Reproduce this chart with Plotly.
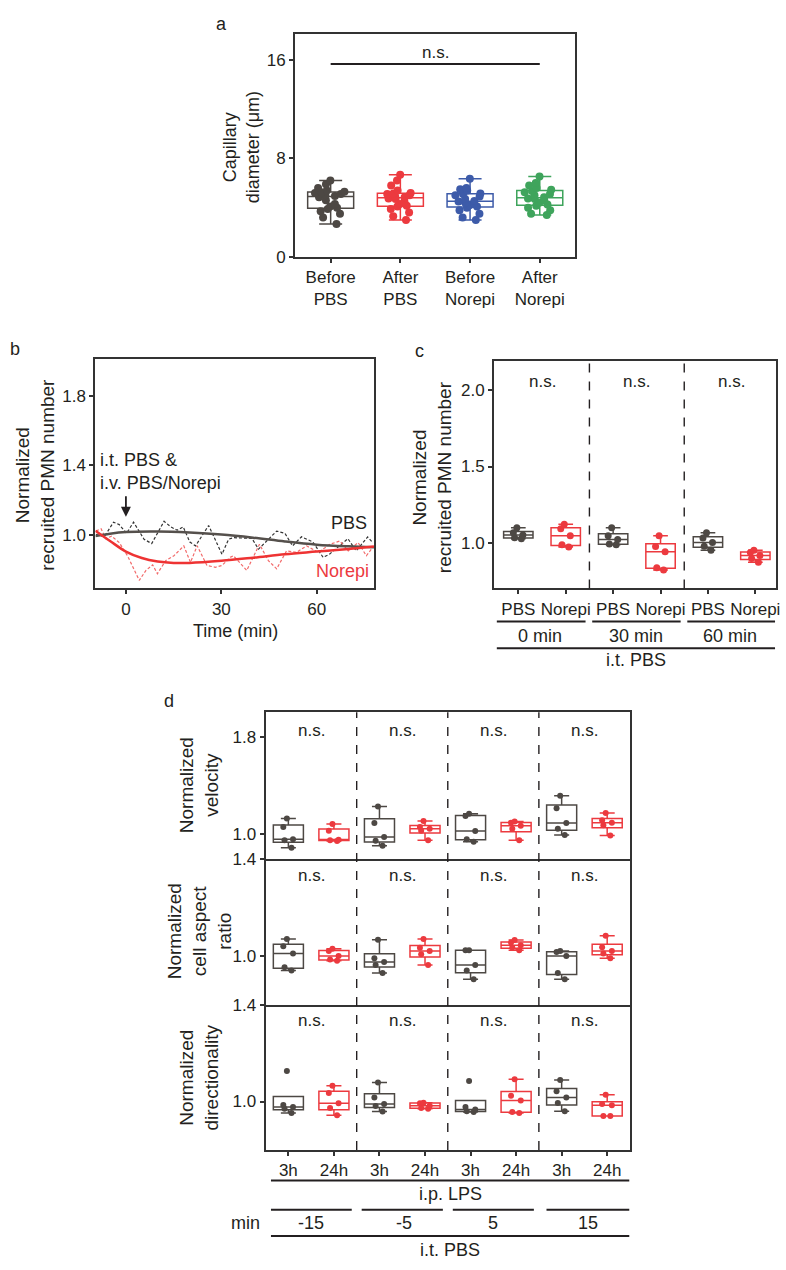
import plotly.graph_objects as go

W, H = 786, 1270
FONT = "Arial, Liberation Sans, sans-serif"
INK = "#231f20"
GRAY = "#4d4844"
RED = "#ec3a3f"
BLUE = "#3d5ba9"
GREEN = "#3fa45c"

# ---------------- Panel a data ----------------
a_categories = ["Before<br>PBS", "After<br>PBS", "Before<br>Norepi", "After<br>Norepi"]
a_before_pbs = [2.67, 3.2, 3.5, 3.7, 3.9, 4.0, 4.1, 4.3, 4.6, 4.85, 4.95, 5.0, 5.1, 5.2, 5.25, 5.3, 5.4, 5.6, 5.9, 6.2]
a_after_pbs = [3.0, 3.3, 3.6, 3.9, 4.1, 4.15, 4.3, 4.5, 4.7, 4.75, 4.85, 4.9, 5.0, 5.1, 5.15, 5.2, 5.4, 5.8, 6.2, 6.67]
a_before_norepi = [3.0, 3.2, 3.5, 3.8, 4.0, 4.1, 4.2, 4.3, 4.4, 4.5, 4.55, 4.7, 4.9, 5.0, 5.1, 5.15, 5.4, 5.5, 5.6, 6.35]
a_after_norepi = [3.4, 3.5, 3.8, 4.0, 4.15, 4.25, 4.4, 4.6, 4.7, 4.75, 4.85, 5.0, 5.1, 5.25, 5.35, 5.45, 5.6, 5.8, 6.0, 6.53]
a_colors = [GRAY, RED, BLUE, GREEN]
a_ns_level = 15.66

# ---------------- Panel b data ----------------
b_pbs_raw_t = [-9.4, -6.8, -3.9, -2.1, 0.2, 2.4, 5.7, 8.1, 12, 14.1, 16.1, 18, 20.1, 21.9, 26, 30.2, 32.3,
               33.8, 39.6, 41.7, 47.4, 50, 52.4, 55.2, 58.8, 62, 64, 69.8, 72.4, 76, 77.6]
b_pbs_raw = [1.004, 0.99, 1.074, 1.06, 1.01, 1.074, 0.976, 0.951, 1.079, 1.047, 1.028, 1.047, 0.96, 0.938, 1.055,
             0.89, 0.976, 0.985, 0.981, 0.919, 1.023, 1.01, 0.938, 0.99, 0.96, 0.872, 0.89, 0.979, 0.909, 0.989, 0.957]
b_nor_raw_t = [-9.4, -7.8, -6.3, -4.5, -2.1, 0.5, 4.2, 6.3, 8.4, 9.9, 12.5, 15.1, 18.2, 20.3, 22.4, 25.5, 28.1,
               30.2, 32.8, 33.8, 38.0, 42.0, 44.8, 47.4, 50.5, 53.6, 56.8, 60.5, 64.1, 67.3, 69.9, 73.0, 75.6, 77.2]
b_nor_raw = [1.023, 1.036, 0.979, 0.994, 0.957, 0.881, 0.74, 0.797, 0.829, 0.778, 0.853, 0.881, 0.938, 0.843, 0.938,
             0.825, 0.815, 0.825, 0.872, 0.881, 0.797, 0.947, 0.853, 0.806, 0.909, 0.9, 0.938, 0.9, 0.947, 0.966,
             0.909, 0.957, 0.881, 0.919]
b_pbs_fit_t = [-9.6, -5, 0, 10, 20, 30, 40, 50, 60, 70, 78]
b_pbs_fit = [0.995, 1.008, 1.017, 1.02, 1.014, 1.003, 0.985, 0.963, 0.945, 0.935, 0.93]
b_nor_fit_t = [-9.6, -5, 0, 5, 10, 15, 20, 30, 40, 50, 60, 70, 78]
b_nor_fit = [1.025, 0.966, 0.905, 0.868, 0.848, 0.84, 0.84, 0.852, 0.87, 0.89, 0.905, 0.92, 0.934]
b_xticks = [0, 30, 60]
b_yticks = [1.0, 1.4, 1.8]

# ---------------- Panel c data ----------------
c_ticklabels = ["PBS", "Norepi", "PBS", "Norepi", "PBS", "Norepi"]
c_groups = ["0 min", "30 min", "60 min"]
c_values = [
    [1.025, 1.032, 1.05, 1.065, 1.097],   # PBS 0 min
    [0.97, 0.985, 1.045, 1.09, 1.12],     # Norepi 0 min
    [0.985, 0.99, 1.02, 1.045, 1.097],    # PBS 30 min
    [0.82, 0.834, 0.94, 0.974, 1.045],    # Norepi 30 min
    [0.95, 0.975, 1.0, 1.03, 1.065],      # PBS 60 min
    [0.87, 0.895, 0.915, 0.935, 0.95],    # Norepi 60 min
]
c_colors = [GRAY, RED] * 3
c_yticks = [1.0, 1.5, 2.0]

# ---------------- Panel d data ----------------
d_ticklabels = ["3h", "24h"] * 4
d_minutes = ["-15", "-5", "5", "15"]
d_colors = [GRAY, RED] * 4
d_velocity = [
    [0.89, 0.95, 0.96, 1.06, 1.13],
    [0.945, 0.95, 0.955, 1.03, 1.085],
    [0.905, 0.946, 0.978, 1.094, 1.229],
    [0.95, 1.03, 1.045, 1.06, 1.11],
    [0.938, 0.96, 1.027, 1.15, 1.17],
    [0.95, 1.045, 1.07, 1.095, 1.105],
    [0.995, 1.045, 1.094, 1.215, 1.318],
    [0.99, 1.075, 1.095, 1.115, 1.175],
]
d_aspect = [
    [0.94, 0.953, 1.01, 1.04, 1.07],
    [0.98, 0.985, 1.0, 1.02, 1.03],
    [0.93, 0.963, 0.975, 0.99, 1.067],
    [0.963, 1.007, 1.02, 1.034, 1.07],
    [0.904, 0.94, 0.963, 1.023, 1.023],
    [1.023, 1.035, 1.044, 1.055, 1.065],
    [0.904, 0.93, 1.0, 1.016, 1.02],
    [0.99, 1.01, 1.02, 1.036, 1.083],
]
d_direction = [
    [0.953, 0.97, 0.977, 0.986, 1.126],
    [0.943, 0.973, 0.993, 1.035, 1.065],
    [0.959, 0.981, 0.99, 1.017, 1.078],
    [0.97, 0.973, 0.983, 0.993, 0.995],
    [0.957, 0.96, 0.967, 0.977, 1.085],
    [0.953, 0.957, 1.004, 1.024, 1.092],
    [0.96, 0.994, 1.017, 1.042, 1.089],
    [0.94, 0.94, 0.985, 0.99, 1.028],
]
d_titles = ["Normalized<br>velocity", "Normalized<br>cell aspect<br>ratio", "Normalized<br>directionality"]


def fx(px):
    return px / W


def fy(py):
    return 1 - py / H


fig = go.Figure()


def add_box(vals, pos, color, ax, width, msize, jitter):
    fig.add_trace(go.Box(
        y=vals, x=[pos] * len(vals), xaxis="x" + ax, yaxis="y" + ax,
        width=width, boxpoints="all", jitter=jitter, pointpos=0,
        fillcolor="rgba(255,255,255,0)", whiskerwidth=0.5,
        line=dict(color=color, width=1.5),
        marker=dict(color=color, size=msize, opacity=1),
        showlegend=False, hoverinfo="skip"))


# Panel a
for i, (vals, col) in enumerate(zip([a_before_pbs, a_after_pbs, a_before_norepi, a_after_norepi], a_colors)):
    add_box(vals, i, col, "", 0.66, 8, 0.7)

# Panel b
fig.add_trace(go.Scatter(x=b_pbs_raw_t, y=b_pbs_raw, mode="lines", xaxis="x2", yaxis="y2",
                         line=dict(color="#333333", width=1.2, dash="3px,2px"), showlegend=False))
fig.add_trace(go.Scatter(x=b_nor_raw_t, y=b_nor_raw, mode="lines", xaxis="x2", yaxis="y2",
                         line=dict(color="#f26a6a", width=1.2, dash="3px,2px"), showlegend=False))
fig.add_trace(go.Scatter(x=b_pbs_fit_t, y=b_pbs_fit, mode="lines", xaxis="x2", yaxis="y2",
                         line=dict(color="#55504c", width=2.5, shape="spline"), showlegend=False))
fig.add_trace(go.Scatter(x=b_nor_fit_t, y=b_nor_fit, mode="lines", xaxis="x2", yaxis="y2",
                         line=dict(color="#ee3333", width=2.5, shape="spline"), showlegend=False))

# Panel c
for i, vals in enumerate(c_values):
    add_box(vals, i, c_colors[i], "3", 0.62, 7, 0.4)

# Panel d
for k, data in enumerate([d_velocity, d_aspect, d_direction]):
    ax = str(4 + k)
    for i, vals in enumerate(data):
        add_box(vals, i, d_colors[i], ax, 0.66, 6, 0.4)

axis_common = dict(showline=True, linewidth=2, linecolor="#333333", mirror=True, ticks="outside",
                   ticklen=4, tickwidth=1.5, tickcolor="#333333", showgrid=False, zeroline=False,
                   tickfont=dict(family=FONT, size=17, color=INK))

layout = dict(
    width=W, height=H, margin=dict(l=0, r=0, t=0, b=0),
    paper_bgcolor="white", plot_bgcolor="white", showlegend=False,
    font=dict(family=FONT, size=17, color=INK),
)

# a axes
layout["xaxis"] = dict(axis_common, domain=[fx(297), fx(579)], range=[-0.51, 3.51],
                       tickvals=list(range(len(a_categories))), ticktext=a_categories, anchor="y")
layout["yaxis"] = dict(axis_common, domain=[fy(251.7), fy(25)], range=[0, 18.13],
                       tickvals=[0, 8, 16], anchor="x")
# b axes
layout["xaxis2"] = dict(axis_common, domain=[fx(96), fx(376.7)], range=[-9.6, 78.1],
                        tickvals=b_xticks, anchor="y2")
layout["yaxis2"] = dict(axis_common, domain=[fy(588.3), fy(355)], range=[0.693, 2.013],
                        tickvals=b_yticks, tickformat=".1f", anchor="x2")
# c axes
layout["xaxis3"] = dict(axis_common, domain=[fx(497.3), fx(780.7)], range=[-0.51, 5.43],
                        tickvals=list(range(len(c_ticklabels))), ticktext=c_ticklabels, anchor="y3")
layout["yaxis3"] = dict(axis_common, domain=[fy(588.3), fy(357.3)], range=[0.698, 2.194],
                        tickvals=c_yticks, tickformat=".1f", anchor="x3")
# d axes
d_dom = [(862.5, 714), (1010.7, 862.5), (1158.3, 1010.7)]
d_ranges = [[0.8, 2.004], [0.8, 1.4001], [0.8, 1.4001]]
d_ticks = [[1.0, 1.8], [1.0, 1.4], [1.0, 1.4]]
for k in range(3):
    ax = str(4 + k)
    xa = dict(axis_common, domain=[fx(267.3), fx(634)], range=[-0.5, 7.5],
              tickvals=list(range(len(d_ticklabels))), ticktext=d_ticklabels, anchor="y" + ax,
              mirror=(k == 0))
    if k < 2:
        xa.update(ticks="", showticklabels=False)
    layout["xaxis" + ax] = xa
    layout["yaxis" + ax] = dict(axis_common, domain=[fy(d_dom[k][0]), fy(d_dom[k][1])], range=d_ranges[k],
                                tickvals=d_ticks[k], tickformat=".1f", anchor="x" + ax)

shapes = []
annotations = []


def ann(text, xpx, ypx, size=18, color=INK, angle=0, xanchor="center", align="center"):
    annotations.append(dict(text=text, x=fx(xpx), y=fy(ypx), xref="paper", yref="paper",
                            showarrow=False, textangle=angle, xanchor=xanchor, yanchor="middle",
                            align=align, font=dict(family=FONT, size=size, color=color)))


def hline(x0, x1, ypx, width=2):
    shapes.append(dict(type="line", xref="paper", yref="paper", x0=fx(x0), x1=fx(x1),
                       y0=fy(ypx), y1=fy(ypx), line=dict(color=INK, width=width)))


# Panel labels
ann("a", 223, 15)
ann("b", 15, 345)
ann("c", 421.7, 346.7)
ann("d", 170, 703)

# Panel a
shapes.append(dict(type="line", xref="x", yref="y", x0=0, x1=len(a_categories) - 1,
                   y0=a_ns_level, y1=a_ns_level, line=dict(color=INK, width=2)))
annotations.append(dict(text="n.s.", x=(len(a_categories) - 1) / 2, y=16.6, xref="x", yref="y",
                        showarrow=False, font=dict(family=FONT, size=17, color=INK)))
ann("Capillary<br>diameter (\u03bcm)", 243, 140, size=18, angle=-90)

# Panel b
ann("Normalized<br>recruited PMN number", 35, 473, size=19, angle=-90)
ann("Time (min)", 237, 631.5, size=18)
ann("i.t. PBS &amp;<br>i.v. PBS/Norepi", 99, 470, size=18, xanchor="left", align="left")
annotations.append(dict(text="", x=0, y=1.105, xref="x2", yref="y2", ax=0, ay=-22,
                        showarrow=True, arrowhead=2, arrowsize=1.1, arrowwidth=1.8, arrowcolor=INK))
ann("PBS", 351, 521.7, size=18)
ann("Norepi", 345, 570.7, size=18, color=RED)

# Panel c
for g in range(len(c_groups)):
    annotations.append(dict(text="n.s.", x=2 * g + 0.5, y=2.058, xref="x3", yref="y3",
                            showarrow=False, font=dict(family=FONT, size=17, color=INK)))
    if g > 0:
        shapes.append(dict(type="line", xref="x3", yref="y3 domain", x0=2 * g - 0.5, x1=2 * g - 0.5,
                           y0=0, y1=1, line=dict(color=INK, width=1.4, dash="dash")))
ann("Normalized<br>recruited PMN number", 435, 475, size=19, angle=-90)
c_seg = [(500, 589.3), (596, 685), (691.7, 780)]
c_lab_x = [543.3, 640, 735]
for (x0, x1), lx, lab in zip(c_seg, c_lab_x, c_groups):
    hline(x0, x1, 621.7)
    ann(lab, lx, 636.7, size=18)
hline(500, 780, 649)
ann("i.t. PBS", 640, 661, size=18)

# Panel d
ns_y = [1.853, 1.329, 1.333]
for k in range(3):
    ax = str(4 + k)
    for g in range(len(d_minutes)):
        annotations.append(dict(text="n.s.", x=2 * g + 0.5, y=ns_y[k], xref="x" + ax, yref="y" + ax,
                                showarrow=False, font=dict(family=FONT, size=17, color=INK)))
for g in range(1, len(d_minutes)):
    shapes.append(dict(type="line", xref="x6", yref="paper", x0=2 * g - 0.5, x1=2 * g - 0.5,
                       y0=fy(1158.3), y1=fy(714), line=dict(color=INK, width=1.4, dash="dash")))
d_title_y = [788.3, 936.6, 1085]
for t, yy in zip(d_titles, d_title_y):
    ann(t, 200, yy, size=19, angle=-90)
hline(272.7, 633.3, 1189.3)
ann("i.p. LPS", 453, 1203.3, size=18)
d_seg = [(272.7, 354), (364, 445.7), (455.7, 537.3), (550, 633.3)]
d_lab_x = [313.3, 406.7, 496, 591.7]
for (x0, x1), lx, lab in zip(d_seg, d_lab_x, d_minutes):
    hline(x0, x1, 1219)
    ann(lab, lx, 1232.7, size=18)
ann("min", 246.7, 1232.7, size=18)
hline(272.7, 633.3, 1245.7)
ann("i.t. PBS", 453, 1260, size=18)

layout["shapes"] = shapes
layout["annotations"] = annotations
fig.update_layout(**layout)
fig.write_html("out.html", config={"displayModeBar": False},
               post_script="document.body.style.margin='0';document.body.style.overflow='hidden';")
